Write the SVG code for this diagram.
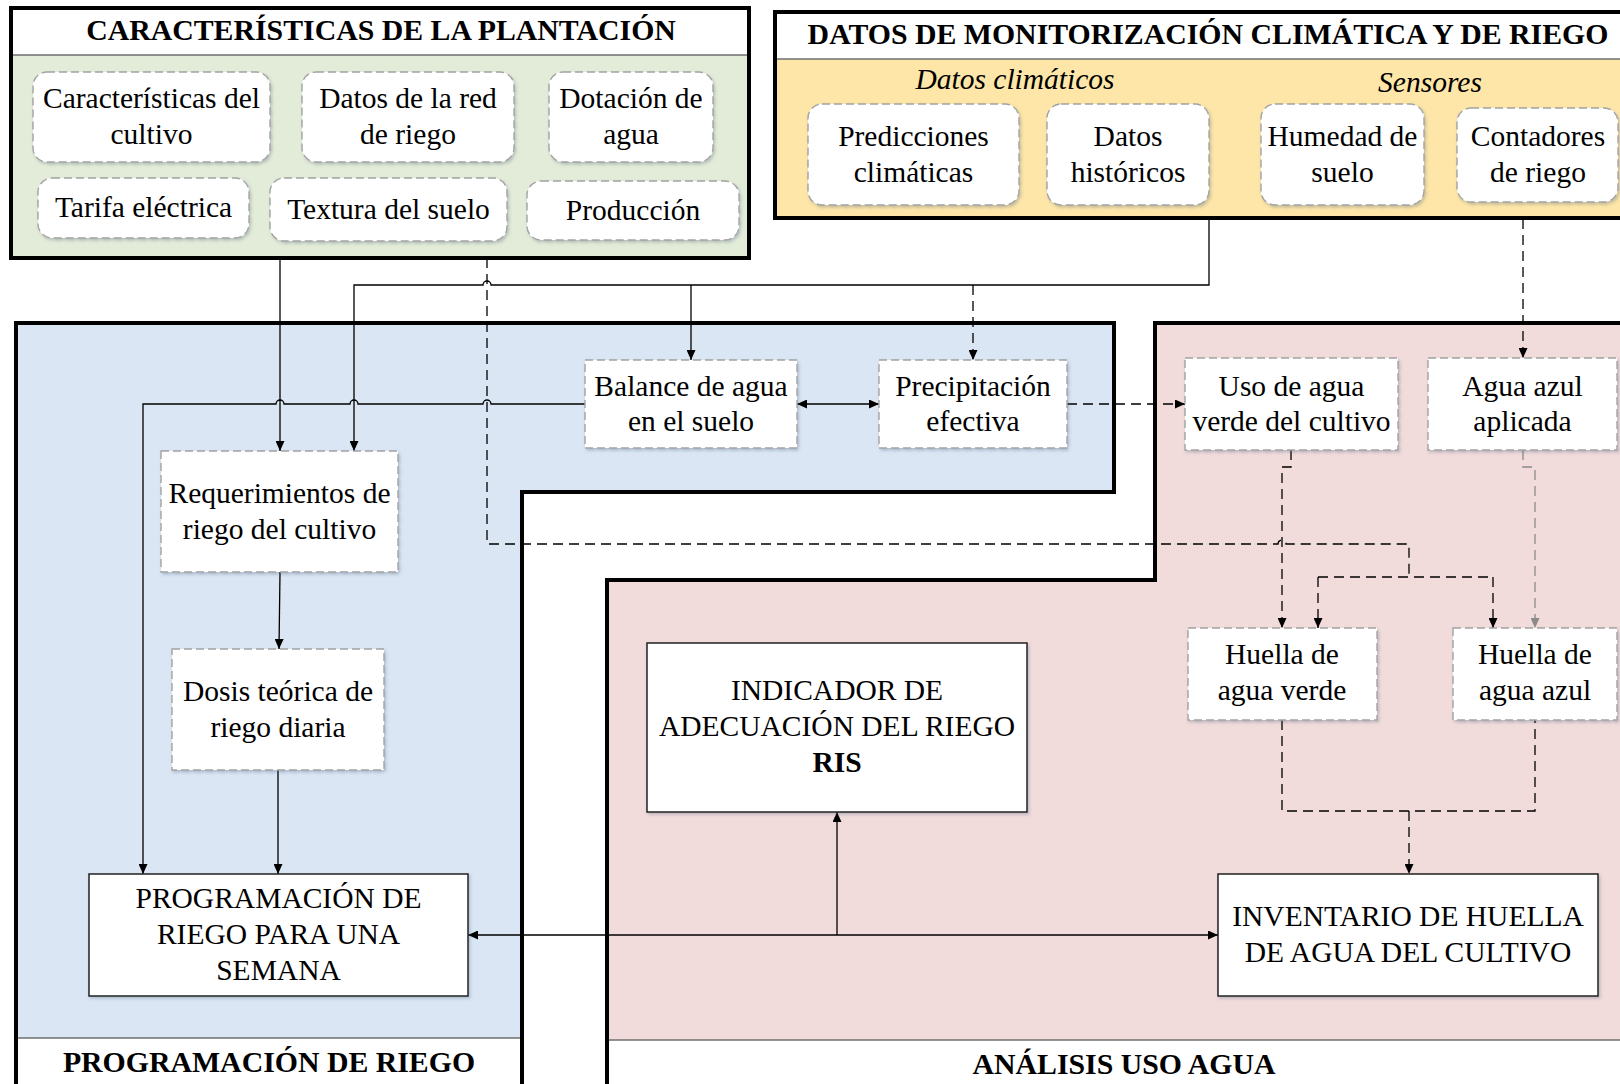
<svg xmlns="http://www.w3.org/2000/svg" width="1620" height="1084" viewBox="0 0 1620 1084">
<style>
text{font-family:"Liberation Serif","Times New Roman",serif;font-size:29.5px;fill:#000;text-anchor:middle}
.tb{font-weight:bold}
.tt{font-size:29.8px}
.it{font-style:italic}
.grp{stroke:#000;stroke-width:4}
.sep{stroke:#6f6f6f;stroke-width:1.5}
.rbox{fill:#fff;stroke:#a3a3a3;stroke-width:1.4;stroke-dasharray:8 4;filter:url(#sh)}
.dbox{fill:#fff;stroke:#a3a3a3;stroke-width:1.4;stroke-dasharray:8 4;filter:url(#sh)}
.sbox{fill:#fff;stroke:#222;stroke-width:1.5;filter:url(#sh)}
.c{fill:none;stroke:#000;stroke-width:1.3}
.d{stroke-dasharray:10 6}
.g{stroke:#8a8a8a}
</style>
<defs>
<filter id="sh" x="-10%" y="-10%" width="125%" height="130%">
<feDropShadow dx="1.5" dy="2" stdDeviation="1.5" flood-color="#4a5a7a" flood-opacity="0.3"/>
</filter>
<marker id="a" markerWidth="10" markerHeight="9" refX="10" refY="4.5" orient="auto-start-reverse" markerUnits="userSpaceOnUse">
<path d="M0,0 L10,4.5 L0,9 z" fill="#000"/>
</marker>
<marker id="ag" markerWidth="10" markerHeight="9" refX="10" refY="4.5" orient="auto" markerUnits="userSpaceOnUse">
<path d="M0,0 L10,4.5 L0,9 z" fill="#8a8a8a"/>
</marker>
</defs>

<!-- group regions -->
<g id="region-programacion">
<path class="grp" d="M16,323 H1114 V492 H522 V1100 H16 Z" fill="#dae6f3"/>
<rect x="18" y="1038" width="502" height="50" fill="#fff"/>
<line class="sep" x1="18" y1="1038" x2="520" y2="1038"/>
<text class="tb tt" x="269" y="1072">PROGRAMACIÓN DE RIEGO</text>
</g>
<g id="region-analisis">
<path class="grp" d="M1155,323 H1660 V1100 H607 V580 H1155 Z" fill="#f1dcdb"/>
<rect x="609" y="1040" width="1040" height="50" fill="#fff"/>
<line class="sep" x1="609" y1="1040" x2="1640" y2="1040"/>
<text class="tb tt" x="1124" y="1074">ANÁLISIS USO AGUA</text>
</g>
<g id="region-plantacion">
<rect class="grp" x="11" y="8" width="738" height="250" fill="#e3ecd8"/>
<rect x="13" y="10" width="734" height="45" fill="#fff"/>
<line class="sep" x1="13" y1="55" x2="747" y2="55"/>
<text class="tb tt" x="381" y="40">CARACTERÍSTICAS DE LA PLANTACIÓN</text>
</g>
<g id="region-monitorizacion">
<rect class="grp" x="775" y="12" width="900" height="206" fill="#fde6a7"/>
<rect x="777" y="14" width="900" height="45" fill="#fff"/>
<line class="sep" x1="777" y1="59" x2="1640" y2="59"/>
<text class="tb tt" x="1208" y="44">DATOS DE MONITORIZACIÓN CLIMÁTICA Y DE RIEGO</text>
<text class="it" x="1015" y="89">Datos climáticos</text>
<text class="it" x="1430" y="92">Sensores</text>
</g>

<!-- connectors -->
<g id="connectors">
<path class="c" d="M280,258 V451" marker-end="url(#a)"/>
<path class="c" d="M1209,219 V285 H491 A4,4 0 0 0 483,285 H354 V451" marker-end="url(#a)"/>
<path class="c" d="M691,285 V360" marker-end="url(#a)"/>
<path class="c d" d="M973,285 V360" marker-end="url(#a)"/>
<path class="c d" d="M487,258 V544 H1278 A4,4 0 0 1 1286,544 H1409 V577"/>
<path class="c d" d="M1318,577 H1493"/>
<path class="c d" d="M1318,577 V628" marker-end="url(#a)"/>
<path class="c d" d="M1493,577 V628" marker-end="url(#a)"/>
<path class="c" d="M585,404 H491 A4,4 0 0 0 483,404 H358 A4,4 0 0 0 350,404 H284 A4,4 0 0 0 276,404 H143 V874" marker-end="url(#a)"/>
<path class="c" d="M797,404 H879" marker-start="url(#a)" marker-end="url(#a)"/>
<path class="c d" d="M1067,404 H1185" marker-end="url(#a)"/>
<path class="c d" d="M1523,219 V358" marker-end="url(#a)"/>
<path class="c d" d="M1291,450 V467 H1282 V628" marker-end="url(#a)"/>
<path class="c d g" d="M1523,450 V467 H1535 V628" marker-end="url(#ag)"/>
<path class="c" d="M280,572 L279,649" marker-end="url(#a)"/>
<path class="c" d="M278,770 V874" marker-end="url(#a)"/>
<path class="c" d="M468,935 H1218" marker-start="url(#a)" marker-end="url(#a)"/>
<path class="c" d="M837,935 V812" marker-end="url(#a)"/>
<path class="c d" d="M1282,720 V811 H1535 V720"/>
<path class="c d" d="M1409,811 V874" marker-end="url(#a)"/>
</g>

<!-- plantation nodes -->
<g id="n-caracteristicas-cultivo">
<rect class="rbox" x="33" y="72" width="237" height="90" rx="14"/>
<text x="151.5" y="108">Características del</text>
<text x="151.5" y="144">cultivo</text>
</g>
<g id="n-datos-red">
<rect class="rbox" x="302" y="72" width="212" height="90" rx="14"/>
<text x="408" y="108">Datos de la red</text>
<text x="408" y="144">de riego</text>
</g>
<g id="n-dotacion">
<rect class="rbox" x="549" y="72" width="164" height="90" rx="14"/>
<text x="631" y="108">Dotación de</text>
<text x="631" y="144">agua</text>
</g>
<g id="n-tarifa">
<rect class="rbox" x="38" y="178" width="211" height="60" rx="14"/>
<text x="143.5" y="217">Tarifa eléctrica</text>
</g>
<g id="n-textura">
<rect class="rbox" x="270" y="178" width="237" height="63" rx="14"/>
<text x="388.5" y="218.5">Textura del suelo</text>
</g>
<g id="n-produccion">
<rect class="rbox" x="527" y="181" width="212" height="59" rx="14"/>
<text x="633" y="219.5">Producción</text>
</g>

<!-- monitoring nodes -->
<g id="n-predicciones">
<rect class="rbox" x="808" y="104" width="211" height="101" rx="14"/>
<text x="913.5" y="146">Predicciones</text>
<text x="913.5" y="182">climáticas</text>
</g>
<g id="n-historicos">
<rect class="rbox" x="1047" y="104" width="162" height="101" rx="14"/>
<text x="1128" y="146">Datos</text>
<text x="1128" y="182">históricos</text>
</g>
<g id="n-humedad">
<rect class="rbox" x="1261" y="104" width="163" height="101" rx="14"/>
<text x="1342.5" y="146">Humedad de</text>
<text x="1342.5" y="182">suelo</text>
</g>
<g id="n-contadores">
<rect class="rbox" x="1457" y="108" width="161" height="94" rx="14"/>
<text x="1538" y="146">Contadores</text>
<text x="1538" y="182">de riego</text>
</g>

<!-- irrigation scheduling nodes -->
<g id="n-balance">
<rect class="dbox" x="585" y="360" width="212" height="88"/>
<text x="691" y="396">Balance de agua</text>
<text x="691" y="431">en el suelo</text>
</g>
<g id="n-precipitacion">
<rect class="dbox" x="879" y="360" width="188" height="88"/>
<text x="973" y="396">Precipitación</text>
<text x="973" y="431">efectiva</text>
</g>
<g id="n-requerimientos">
<rect class="dbox" x="161" y="451" width="237" height="121"/>
<text x="279.5" y="503">Requerimientos de</text>
<text x="279.5" y="539">riego del cultivo</text>
</g>
<g id="n-dosis">
<rect class="dbox" x="172" y="649" width="212" height="121"/>
<text x="278" y="701">Dosis teórica de</text>
<text x="278" y="737">riego diaria</text>
</g>
<g id="n-programacion-semana">
<rect class="sbox" x="89" y="874" width="379" height="122"/>
<text x="278.5" y="908">PROGRAMACIÓN DE</text>
<text x="278.5" y="944">RIEGO PARA UNA</text>
<text x="278.5" y="980">SEMANA</text>
</g>

<!-- water use analysis nodes -->
<g id="n-uso-verde">
<rect class="dbox" x="1185" y="358" width="213" height="92"/>
<text x="1291.5" y="396">Uso de agua</text>
<text x="1291.5" y="431">verde del cultivo</text>
</g>
<g id="n-agua-azul">
<rect class="dbox" x="1428" y="358" width="189" height="92"/>
<text x="1522.5" y="396">Agua azul</text>
<text x="1522.5" y="431">aplicada</text>
</g>
<g id="n-huella-verde">
<rect class="dbox" x="1188" y="628" width="189" height="92"/>
<text x="1282" y="664">Huella de</text>
<text x="1282" y="700">agua verde</text>
</g>
<g id="n-huella-azul">
<rect class="dbox" x="1453" y="628" width="164" height="92"/>
<text x="1535" y="664">Huella de</text>
<text x="1535" y="700">agua azul</text>
</g>
<g id="n-indicador">
<rect class="sbox" x="647" y="643" width="380" height="169"/>
<text x="837" y="700">INDICADOR DE</text>
<text x="837" y="736">ADECUACIÓN DEL RIEGO</text>
<text class="tb" x="837" y="772">RIS</text>
</g>
<g id="n-inventario">
<rect class="sbox" x="1218" y="874" width="380" height="122"/>
<text x="1408" y="926">INVENTARIO DE HUELLA</text>
<text x="1408" y="962">DE AGUA DEL CULTIVO</text>
</g>
</svg>
